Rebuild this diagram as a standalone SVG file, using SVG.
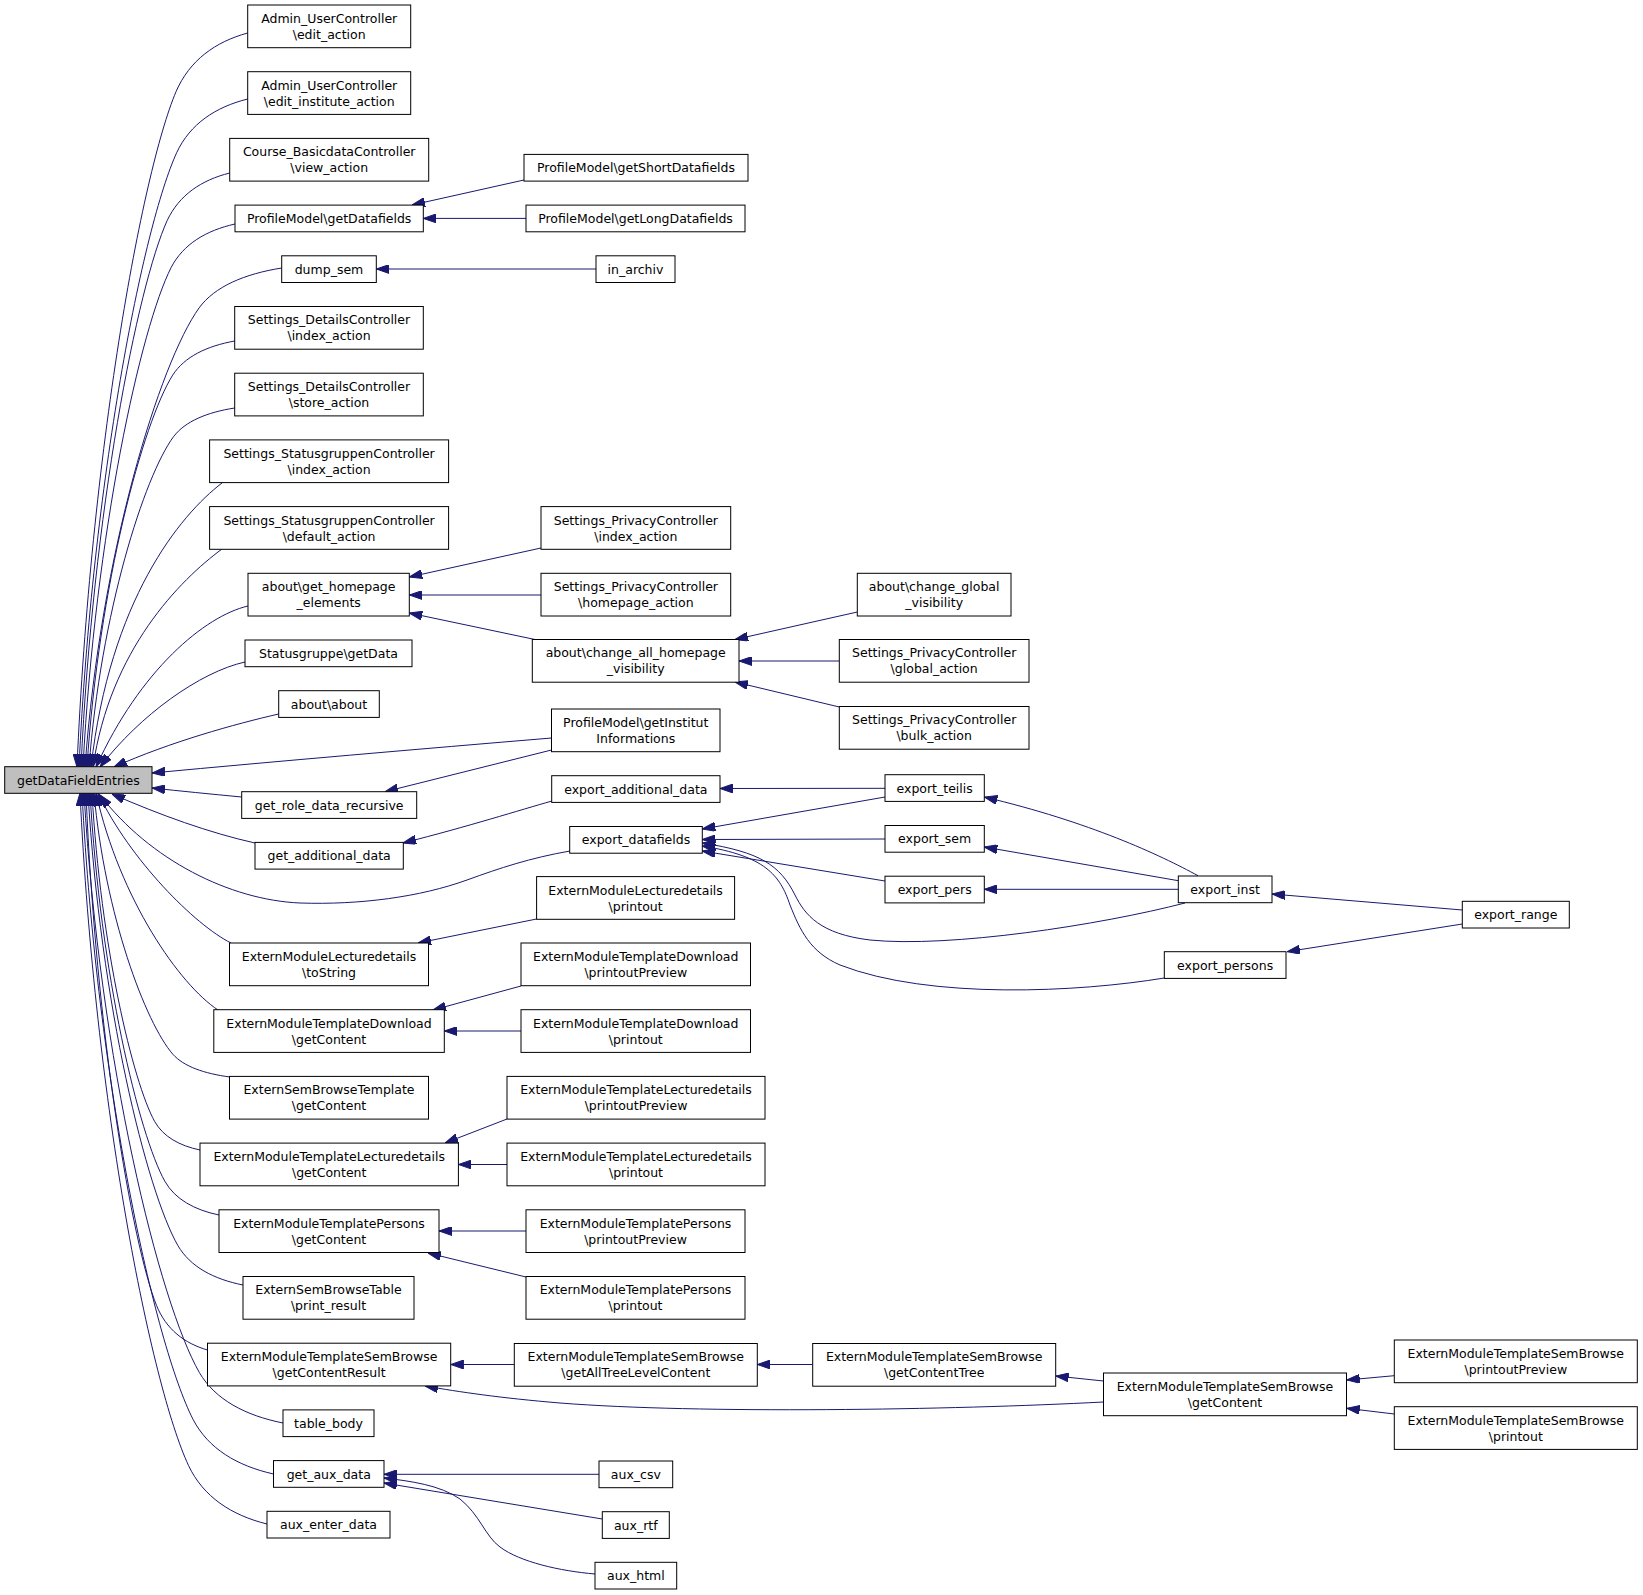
<svg xmlns="http://www.w3.org/2000/svg" width="1643" height="1595" viewBox="0 0 1643 1595">
<style>
.n rect{fill:#fff;stroke:#000;stroke-width:1}
.root rect{fill:#bfbfbf}
text{font-family:"DejaVu Sans","Liberation Sans",sans-serif;font-size:12.5px;text-anchor:middle;fill:#000}
#edges path{fill:none;stroke:#191970;stroke-width:1;marker-end:url(#a)}
</style>
<defs>
<marker id="a" viewBox="0 0 13 9" refX="13" refY="4.5" markerWidth="13" markerHeight="9" markerUnits="userSpaceOnUse" orient="auto">
<path d="M0,0 L13,4.5 L0,9 z" fill="#191970" stroke="#191970"/>
</marker>
</defs>
<rect width="1643" height="1595" fill="#fff"/>
<g id="edges">
<path d="M247.7,33 C215.3,41.8 189.7,60.2 176,91.7 C141.9,172.4 90.7,451.4 77,767"/>
<path d="M247.7,99 C215.6,107 190.3,123.7 176.8,152.4 C143.1,225.9 92.5,479.8 79,767"/>
<path d="M229.7,173 C201.4,180.1 179.1,195 167.2,220.5 C137.5,285.8 92.9,511.6 81,767"/>
<path d="M235,224 C206.1,230.5 183.3,244.1 171.2,267.4 C140.8,327.1 95.2,533.5 83,767"/>
<path d="M281.7,268 C244.3,274 214.8,286.5 199.1,307.9 C159.8,362.8 100.7,552.4 85,767"/>
<path d="M234.7,341 C206.6,346.1 184.5,356.8 172.7,375.1 C143.2,422 98.8,583.8 87,767"/>
<path d="M234.7,408 C207,412.3 185.2,421.3 173.5,436.7 C144.4,476.2 100.7,612.6 89,767"/>
<path d="M222,483 C180,515 110,600 91,767"/>
<path d="M222,549 C180,580 110,650 93,767"/>
<path d="M248,606 C205,616 140,670 96,767"/>
<path d="M245,662 C200,672 140,715 100,767"/>
<path d="M278.7,714 C235,724 170,742 114,767"/>
<path d="M551.5,738 C420,749 280,761 152,773"/>
<path d="M241.7,797 C210,794 180,791 152,788"/>
<path d="M255,843 C210,833 160,815 112,794"/>
<path d="M570,851 C530,858 500,868 467,880 C420,897 360,905 300,903 C230,900 150,860 100,795"/>
<path d="M231,943 C195,925 130,860 98,793"/>
<path d="M218,1010 C180,985 120,900 96,793"/>
<path d="M230,1077 C204.2,1073.6 183.8,1066.5 172.9,1054.3 C145.7,1023.1 104.9,915.1 94,793"/>
<path d="M200,1150 C179.5,1145.7 163.3,1136.8 154.6,1121.4 C133,1082.1 100.6,946.5 92,793"/>
<path d="M219,1215 C194.5,1209.9 175.1,1199.4 164.8,1181.2 C139,1134.8 100.3,974.5 90,793"/>
<path d="M243,1285 C213.5,1279.1 190.3,1266.8 177.9,1245.6 C146.9,1191.5 100.4,1004.6 88,793"/>
<path d="M207.5,1350 C184.4,1343.3 166.2,1329.4 156.5,1305.4 C132.2,1244.1 95.7,1032.5 86,793"/>
<path d="M283,1423 C245.2,1415.4 215.3,1399.7 199.4,1372.6 C159.6,1303.3 99.9,1063.9 84,793"/>
<path d="M273.5,1474 C237.1,1465.8 208.4,1448.8 193.1,1419.5 C154.8,1344.6 97.3,1085.8 82,793"/>
<path d="M267,1524 C231.5,1515.2 203.4,1497 188.5,1465.5 C151.1,1385.1 95,1107.3 80,793"/>
<path d="M524,180 L412,205"/>
<path d="M526,218.4 L423.3,218.4"/>
<path d="M596,269 L376.3,269"/>
<path d="M541,548 L409.3,577"/>
<path d="M541,595 L409.3,595"/>
<path d="M535,639.5 L409.3,613"/>
<path d="M857.3,612 L735,639.5"/>
<path d="M839.3,661 L739,661"/>
<path d="M839.3,707 L735,682"/>
<path d="M551.5,750 L385,791.7"/>
<path d="M552,801 C520,810 470,826 403,843"/>
<path d="M536.6,919 L418,943"/>
<path d="M521,986 L433,1010"/>
<path d="M521,1031 L444.3,1031"/>
<path d="M507,1119 L445,1143"/>
<path d="M507,1164.5 L458.4,1164.5"/>
<path d="M526,1231 L439,1231"/>
<path d="M526,1277 L428,1253"/>
<path d="M514.3,1364.5 L450.7,1364.5"/>
<path d="M1103.5,1402 C950,1410 700,1414 560,1403 C500,1398 460,1392 425,1386"/>
<path d="M599,1474.3 L384,1474.3"/>
<path d="M602.3,1519 L384,1483"/>
<path d="M595,1574 C560,1571 520,1562 500,1547 C485,1536 480,1515 460,1499 C440,1485 410,1481 384,1478"/>
<path d="M812.7,1364.5 L757.3,1364.5"/>
<path d="M1103.5,1381 L1055.7,1376"/>
<path d="M885,788.3 L720,788.5"/>
<path d="M885,797 L702.3,829"/>
<path d="M885,839 L702.3,839.5"/>
<path d="M885,881 L702.3,851"/>
<path d="M1185,903 C1100,925 950,948 870,940 C820,934 805,915 795,895 C780,865 760,852 702.3,843"/>
<path d="M1164.3,978 C1080,992 930,1000 840,965 C810,952 800,930 790,905 C780,875 765,856 702.3,846"/>
<path d="M1198,875.7 C1160,855 1090,822 984.3,797"/>
<path d="M1178.3,880.7 L984.3,847"/>
<path d="M1178.3,889.3 L984.3,889.3"/>
<path d="M1462.3,910 L1272,894"/>
<path d="M1462.3,924 L1287,951.7"/>
<path d="M1394.3,1375.7 L1346.7,1380"/>
<path d="M1394.3,1414 L1346.7,1408.3"/>
</g>
<g id="n_root" class="n root"><rect x="4.7" y="766.7" width="147.3" height="26.6"/><text x="78.35" y="784.5">getDataFieldEntries</text></g>
<g id="n_admin_edit" class="n"><rect x="247.7" y="5" width="163" height="42.7"/><text x="329.2" y="22.9">Admin_UserController</text><text x="329.2" y="38.9">\edit_action</text></g>
<g id="n_admin_inst" class="n"><rect x="247.7" y="71.7" width="163" height="42.7"/><text x="329.2" y="89.6">Admin_UserController</text><text x="329.2" y="105.6">\edit_institute_action</text></g>
<g id="n_course" class="n"><rect x="229.7" y="138.4" width="199" height="42.7"/><text x="329.2" y="156.3">Course_BasicdataController</text><text x="329.2" y="172.3">\view_action</text></g>
<g id="n_pm_getdf" class="n"><rect x="235" y="205.1" width="188.3" height="26.7"/><text x="329.15" y="223">ProfileModel\getDatafields</text></g>
<g id="n_dump" class="n"><rect x="281.7" y="255.8" width="94.6" height="26.7"/><text x="329" y="273.7">dump_sem</text></g>
<g id="n_sd_index" class="n"><rect x="234.7" y="306.5" width="188.6" height="42.7"/><text x="329" y="324.4">Settings_DetailsController</text><text x="329" y="340.4">\index_action</text></g>
<g id="n_sd_store" class="n"><rect x="234.7" y="373.2" width="188.6" height="42.7"/><text x="329" y="391.1">Settings_DetailsController</text><text x="329" y="407.1">\store_action</text></g>
<g id="n_ss_index" class="n"><rect x="209.6" y="439.9" width="239" height="42.7"/><text x="329.1" y="457.8">Settings_StatusgruppenController</text><text x="329.1" y="473.8">\index_action</text></g>
<g id="n_ss_default" class="n"><rect x="209.6" y="506.6" width="239" height="42.7"/><text x="329.1" y="524.5">Settings_StatusgruppenController</text><text x="329.1" y="540.5">\default_action</text></g>
<g id="n_about_gh" class="n"><rect x="248" y="573.3" width="161.3" height="42.7"/><text x="328.65" y="591.2">about\get_homepage</text><text x="328.65" y="607.2">_elements</text></g>
<g id="n_sg_getdata" class="n"><rect x="245" y="640" width="167" height="26.7"/><text x="328.5" y="657.9">Statusgruppe\getData</text></g>
<g id="n_about_about" class="n"><rect x="278.7" y="690.7" width="100.6" height="26.7"/><text x="329" y="708.6">about\about</text></g>
<g id="n_get_role" class="n"><rect x="241.7" y="791.7" width="175" height="26.7"/><text x="329.2" y="809.6">get_role_data_recursive</text></g>
<g id="n_get_add" class="n"><rect x="255" y="842.4" width="148.3" height="26.7"/><text x="329.15" y="860.3">get_additional_data</text></g>
<g id="n_eml_tostring" class="n"><rect x="229.5" y="943" width="199" height="42.7"/><text x="329" y="960.9">ExternModuleLecturedetails</text><text x="329" y="976.9">\toString</text></g>
<g id="n_emtd_gc" class="n"><rect x="213.8" y="1009.7" width="230.5" height="42.7"/><text x="329.05" y="1027.6">ExternModuleTemplateDownload</text><text x="329.05" y="1043.6">\getContent</text></g>
<g id="n_esbt_gc" class="n"><rect x="229.5" y="1076.4" width="199" height="42.7"/><text x="329" y="1094.3">ExternSemBrowseTemplate</text><text x="329" y="1110.3">\getContent</text></g>
<g id="n_emtl_gc" class="n"><rect x="200" y="1143.1" width="258.4" height="42.7"/><text x="329.2" y="1161">ExternModuleTemplateLecturedetails</text><text x="329.2" y="1177">\getContent</text></g>
<g id="n_emtp_gc" class="n"><rect x="219" y="1209.8" width="220" height="42.7"/><text x="329" y="1227.7">ExternModuleTemplatePersons</text><text x="329" y="1243.7">\getContent</text></g>
<g id="n_esbtable" class="n"><rect x="243" y="1276.5" width="171" height="42.7"/><text x="328.5" y="1294.4">ExternSemBrowseTable</text><text x="328.5" y="1310.4">\print_result</text></g>
<g id="n_emtsb_gcr" class="n"><rect x="207.5" y="1343.2" width="243.2" height="42.7"/><text x="329.1" y="1361.1">ExternModuleTemplateSemBrowse</text><text x="329.1" y="1377.1">\getContentResult</text></g>
<g id="n_table_body" class="n"><rect x="283" y="1409.9" width="91" height="26.7"/><text x="328.5" y="1427.8">table_body</text></g>
<g id="n_get_aux" class="n"><rect x="273.5" y="1460.6" width="110.5" height="26.7"/><text x="328.75" y="1478.5">get_aux_data</text></g>
<g id="n_aux_enter" class="n"><rect x="267" y="1511.3" width="123" height="26.7"/><text x="328.5" y="1529.2">aux_enter_data</text></g>
<g id="n_pm_short" class="n"><rect x="524" y="154.4" width="224" height="26.7"/><text x="636" y="172.3">ProfileModel\getShortDatafields</text></g>
<g id="n_pm_long" class="n"><rect x="526" y="205.1" width="219" height="26.7"/><text x="635.5" y="223">ProfileModel\getLongDatafields</text></g>
<g id="n_in_archiv" class="n"><rect x="596" y="255.8" width="79" height="26.7"/><text x="635.5" y="273.7">in_archiv</text></g>
<g id="n_sp_index" class="n"><rect x="541" y="506.6" width="189.7" height="42.7"/><text x="635.85" y="524.5">Settings_PrivacyController</text><text x="635.85" y="540.5">\index_action</text></g>
<g id="n_sp_home" class="n"><rect x="541" y="573.3" width="189.7" height="42.7"/><text x="635.85" y="591.2">Settings_PrivacyController</text><text x="635.85" y="607.2">\homepage_action</text></g>
<g id="n_about_cahv" class="n"><rect x="532.3" y="639.5" width="206.7" height="42.7"/><text x="635.65" y="657.4">about\change_all_homepage</text><text x="635.65" y="673.4">_visibility</text></g>
<g id="n_pm_inst" class="n"><rect x="551.5" y="709" width="168.5" height="42.7"/><text x="635.75" y="726.9">ProfileModel\getInstitut</text><text x="635.75" y="742.9">Informations</text></g>
<g id="n_exp_add" class="n"><rect x="551.7" y="775.7" width="168.3" height="26.7"/><text x="635.85" y="793.6">export_additional_data</text></g>
<g id="n_exp_df" class="n"><rect x="569.7" y="826.5" width="132.6" height="26.7"/><text x="636" y="844.4">export_datafields</text></g>
<g id="n_eml_printout" class="n"><rect x="536.6" y="876.6" width="198" height="42.7"/><text x="635.6" y="894.5">ExternModuleLecturedetails</text><text x="635.6" y="910.5">\printout</text></g>
<g id="n_emtd_pp" class="n"><rect x="521" y="943" width="229.5" height="42.7"/><text x="635.75" y="960.9">ExternModuleTemplateDownload</text><text x="635.75" y="976.9">\printoutPreview</text></g>
<g id="n_emtd_po" class="n"><rect x="521" y="1009.7" width="229.5" height="42.7"/><text x="635.75" y="1027.6">ExternModuleTemplateDownload</text><text x="635.75" y="1043.6">\printout</text></g>
<g id="n_emtl_pp" class="n"><rect x="507" y="1076.4" width="258" height="42.7"/><text x="636" y="1094.3">ExternModuleTemplateLecturedetails</text><text x="636" y="1110.3">\printoutPreview</text></g>
<g id="n_emtl_po" class="n"><rect x="507" y="1143.1" width="258" height="42.7"/><text x="636" y="1161">ExternModuleTemplateLecturedetails</text><text x="636" y="1177">\printout</text></g>
<g id="n_emtp_pp" class="n"><rect x="526" y="1209.8" width="219" height="42.7"/><text x="635.5" y="1227.7">ExternModuleTemplatePersons</text><text x="635.5" y="1243.7">\printoutPreview</text></g>
<g id="n_emtp_po" class="n"><rect x="526" y="1276.5" width="219" height="42.7"/><text x="635.5" y="1294.4">ExternModuleTemplatePersons</text><text x="635.5" y="1310.4">\printout</text></g>
<g id="n_emtsb_gatlc" class="n"><rect x="514.3" y="1343.5" width="243" height="42.7"/><text x="635.8" y="1361.4">ExternModuleTemplateSemBrowse</text><text x="635.8" y="1377.4">\getAllTreeLevelContent</text></g>
<g id="n_aux_csv" class="n"><rect x="599" y="1461" width="73.7" height="26.7"/><text x="635.85" y="1478.9">aux_csv</text></g>
<g id="n_aux_rtf" class="n"><rect x="602.3" y="1511.7" width="67" height="26.7"/><text x="635.8" y="1529.6">aux_rtf</text></g>
<g id="n_aux_html" class="n"><rect x="595" y="1562.3" width="81.7" height="26.7"/><text x="635.85" y="1580.2">aux_html</text></g>
<g id="n_about_cgv" class="n"><rect x="857.3" y="573.3" width="153.7" height="42.7"/><text x="934.15" y="591.2">about\change_global</text><text x="934.15" y="607.2">_visibility</text></g>
<g id="n_sp_global" class="n"><rect x="839.3" y="639.5" width="189.7" height="42.7"/><text x="934.15" y="657.4">Settings_PrivacyController</text><text x="934.15" y="673.4">\global_action</text></g>
<g id="n_sp_bulk" class="n"><rect x="839.3" y="706.5" width="189.7" height="42.7"/><text x="934.15" y="724.4">Settings_PrivacyController</text><text x="934.15" y="740.4">\bulk_action</text></g>
<g id="n_exp_teilis" class="n"><rect x="885" y="774.7" width="99.3" height="26.7"/><text x="934.65" y="792.6">export_teilis</text></g>
<g id="n_exp_sem" class="n"><rect x="885" y="825.5" width="99.3" height="26.7"/><text x="934.65" y="843.4">export_sem</text></g>
<g id="n_exp_pers" class="n"><rect x="885" y="876.2" width="99.3" height="26.7"/><text x="934.65" y="894.1">export_pers</text></g>
<g id="n_emtsb_gct" class="n"><rect x="812.7" y="1343.5" width="243" height="42.7"/><text x="934.2" y="1361.4">ExternModuleTemplateSemBrowse</text><text x="934.2" y="1377.4">\getContentTree</text></g>
<g id="n_exp_inst" class="n"><rect x="1178.3" y="876" width="93.7" height="26.7"/><text x="1225.15" y="893.9">export_inst</text></g>
<g id="n_exp_persons" class="n"><rect x="1164.3" y="951.7" width="121.7" height="26.7"/><text x="1225.15" y="969.6">export_persons</text></g>
<g id="n_emtsb_gc" class="n"><rect x="1103.5" y="1373" width="243" height="42.7"/><text x="1225" y="1390.9">ExternModuleTemplateSemBrowse</text><text x="1225" y="1406.9">\getContent</text></g>
<g id="n_exp_range" class="n"><rect x="1462.3" y="901.3" width="107" height="26.7"/><text x="1515.8" y="919.2">export_range</text></g>
<g id="n_emtsb_pp" class="n"><rect x="1394.3" y="1340" width="243" height="42.7"/><text x="1515.8" y="1357.9">ExternModuleTemplateSemBrowse</text><text x="1515.8" y="1373.9">\printoutPreview</text></g>
<g id="n_emtsb_po" class="n"><rect x="1394.3" y="1406.7" width="243" height="42.7"/><text x="1515.8" y="1424.6">ExternModuleTemplateSemBrowse</text><text x="1515.8" y="1440.6">\printout</text></g>
</svg>
